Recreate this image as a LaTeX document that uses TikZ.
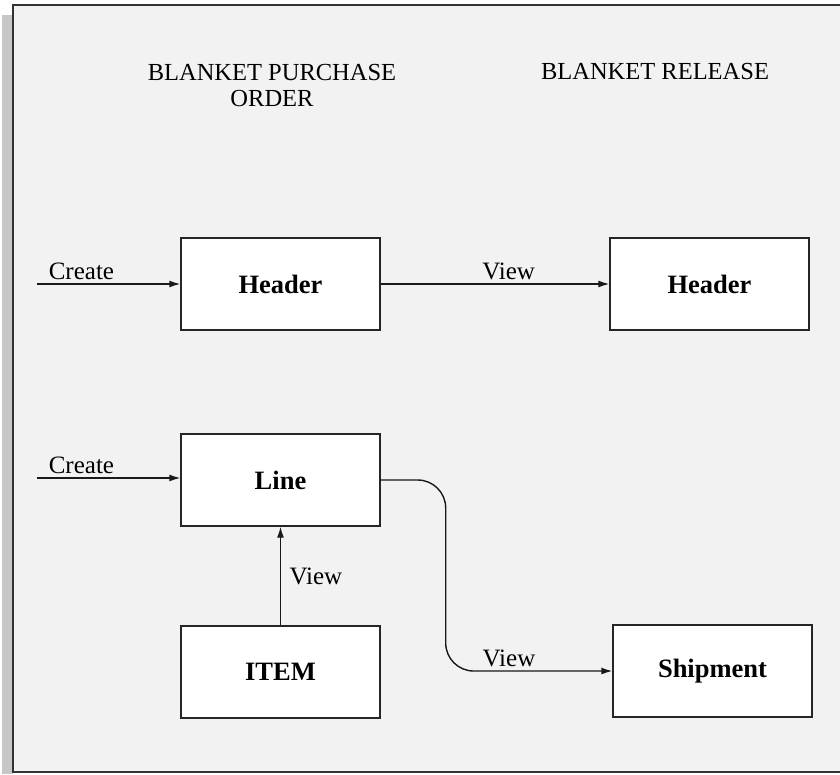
\documentclass[tikz,border=0pt]{standalone}
\usepackage{fontspec}
\setmainfont{Liberation Serif}
\usetikzlibrary{arrows.meta}

\begin{document}
\begin{tikzpicture}[x=1pt, y=-1pt,
        box/.style={draw=black!85, line width=1.4pt, fill=white, minimum width=199pt, minimum height=92pt, font=\fontsize{26.5}{30}\selectfont\bfseries},
        arr/.style={draw=black!90, line width=1.4pt, -{Latex[length=11pt,width=7pt]}},
        lbl/.style={font=\fontsize{25}{28}\selectfont},
        ttl/.style={font=\fontsize{24.5}{26}\selectfont, align=center}]
        \useasboundingbox (0,0) rectangle (840,774);
        \fill[black!22] (2,15) rectangle (13,774);
        \draw[fill=black!5, draw=black!80, line width=2pt] (13,5) rectangle (841,772);

        \node[ttl] (bpo) at (272,86) {BLANKET PURCHASE\\ORDER};
        \node[ttl] (brel) at (655,72) {BLANKET RELEASE};

        \node[box] (hdrA) at (280.5,284) {Header};
        \node[box] (hdrB) at (709.5,284) {Header};
        \node[box] (line) at (280.5,480) {Line};
        \node[box] (item) at (280.5,672) {ITEM};
        \node[box] (ship) at (712.5,671) {Shipment};

        \coordinate (inA) at (37,284);
        \coordinate (inL) at (37,478);

        \draw[arr] (inA) -- node[lbl, above, pos=.31] {Create} (hdrA.west);
        \draw[arr] (inL) -- node[lbl, above, pos=.31] {Create} (line.west |- inL);
        \draw[arr] (hdrA) -- node[lbl, above, pos=.56] {View} (hdrB);
        \draw[arr] (item) -- node[lbl, right, xshift=5pt] {View} (line);
        \draw[arr, rounded corners=28pt] (line.east) -- ++(65,0) |- node[lbl, above, pos=.69] {View} (ship.west);
    \end{tikzpicture}
\end{document}
